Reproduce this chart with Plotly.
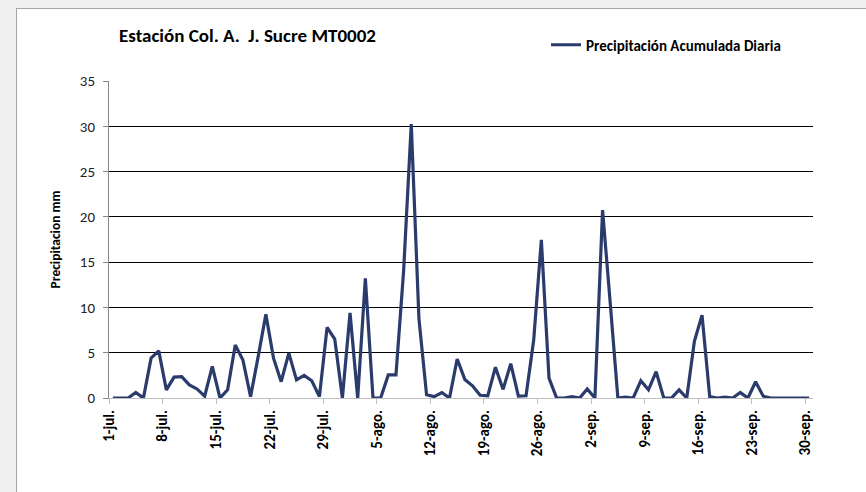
import pandas as pd
import plotly.graph_objects as go

# ---- data ----
start_date = "2013-07-01"
precip_mm = [
    0, 0, 0, 0.6, 0, 4.4, 5.2, 0.9, 2.3, 2.35,
    1.45, 1.0, 0.2, 3.5, 0, 0.9, 5.85, 4.2, 0.15, 4.6,
    9.25, 4.4, 1.8, 4.95, 2.0, 2.5, 1.9, 0.15, 7.8, 6.5,
    0, 9.4, 0, 13.2, 0, 0, 2.55, 2.55, 14.0, 30.25,
    8.8, 0.35, 0.15, 0.6, 0, 4.3, 2.05, 1.35, 0.3, 0.25,
    3.4, 0.95, 3.8, 0.2, 0.25, 6.4, 17.45, 2.2, 0, 0,
    0.15, 0, 1.0, 0, 20.75, 10.5, 0, 0.1, 0, 1.9,
    0.9, 2.9, 0, 0, 0.9, 0, 6.25, 9.15, 0.15, 0,
    0.1, 0, 0.6, 0, 1.8, 0.2, 0, 0, 0, 0,
    0, 0,
]
tick_labels = ["1-jul.", "8-jul.", "15-jul.", "22-jul.", "29-jul.", "5-ago.", "12-ago.",
               "19-ago.", "26-ago.", "2-sep.", "9-sep.", "16-sep.", "23-sep.", "30-sep."]
series_name = "Precipitación Acumulada Diaria"
title_text = "Estación Col. A.  J. Sucre MT0002"
y_title = "Precipitacion mm"

# each daily value is centred in its day (Excel "between tick marks")
days = pd.date_range(start_date, periods=len(precip_mm), freq="D")
x_vals = days + pd.Timedelta(hours=12)
tick_vals = pd.date_range(start_date, periods=len(tick_labels), freq="7D")

FONT = "Carlito, Calibri, 'Open Sans', 'Liberation Sans', sans-serif"
W, H = 866, 492
L, R, T, B = 109, 53, 81, 94
pw, ph = W - L - R, H - T - B

fig = go.Figure()
fig.add_trace(go.Scatter(
    x=x_vals, y=precip_mm, mode="lines", name=series_name,
    line=dict(color="#2b3b6b", width=3.2),
))

def px_x(p):
    return (p - L) / pw

def px_y(p):
    return (H - B - p) / ph

# grey frame strips around the chart sheet
fig.add_shape(type="rect", xref="paper", yref="paper", layer="below",
              x0=px_x(0), x1=px_x(866), y0=px_y(0), y1=px_y(8),
              fillcolor="#f0f0f0", line=dict(width=0))
fig.add_shape(type="rect", xref="paper", yref="paper", layer="below",
              x0=px_x(0), x1=px_x(16), y0=px_y(492), y1=px_y(0),
              fillcolor="#f0f0f0", line=dict(width=0))
fig.add_shape(type="line", xref="paper", yref="paper",
              x0=px_x(16), x1=px_x(866), y0=px_y(8.5), y1=px_y(8.5),
              line=dict(color="#a6a6a6", width=1))
fig.add_shape(type="line", xref="paper", yref="paper",
              x0=px_x(16.5), x1=px_x(16.5), y0=px_y(8.5), y1=px_y(492),
              line=dict(color="#a6a6a6", width=1))

fig.update_layout(
    width=W, height=H,
    margin=dict(l=L, r=R, t=T, b=B),
    paper_bgcolor="white", plot_bgcolor="white",
    font=dict(family=FONT, color="#000000"),
    title=dict(text=title_text, x=px_x(119), xref="paper", xanchor="left",
               y=1 - 35 / H, yref="container", yanchor="middle",
               font=dict(size=19, weight="bold", color="#000000")),
    showlegend=True,
    legend=dict(orientation="h", x=px_x(546), y=px_y(45), xanchor="left", yanchor="middle",
                font=dict(size=15, weight="bold"), itemwidth=30,
                bgcolor="rgba(0,0,0,0)"),
    xaxis=dict(
        type="date",
        range=[days[0], days[-1] + pd.Timedelta(days=1)],
        tickvals=tick_vals, ticktext=tick_labels, tickangle=-90,
        tickfont=dict(size=15, weight="bold", color="#000000"),
        showgrid=False, showline=True, linecolor="#bfbfbf", linewidth=1,
        ticks="outside", ticklen=5, tickcolor="#bfbfbf", zeroline=False,
    ),
    yaxis=dict(
        range=[0, 35], dtick=5,
        tickfont=dict(size=15, color="#222222"),
        ticklabelstandoff=5,
        showgrid=True, gridcolor="#000000", gridwidth=1.4,
        showline=True, linecolor="#868686", linewidth=1,
        ticks="outside", ticklen=5, tickcolor="#868686", zeroline=False,
        title=dict(text=y_title, font=dict(size=13.5, weight="bold"), standoff=16),
    ),
)

fig.write_html("out.html", config={"displayModeBar": False},
               post_script="document.body.style.margin='0';")
